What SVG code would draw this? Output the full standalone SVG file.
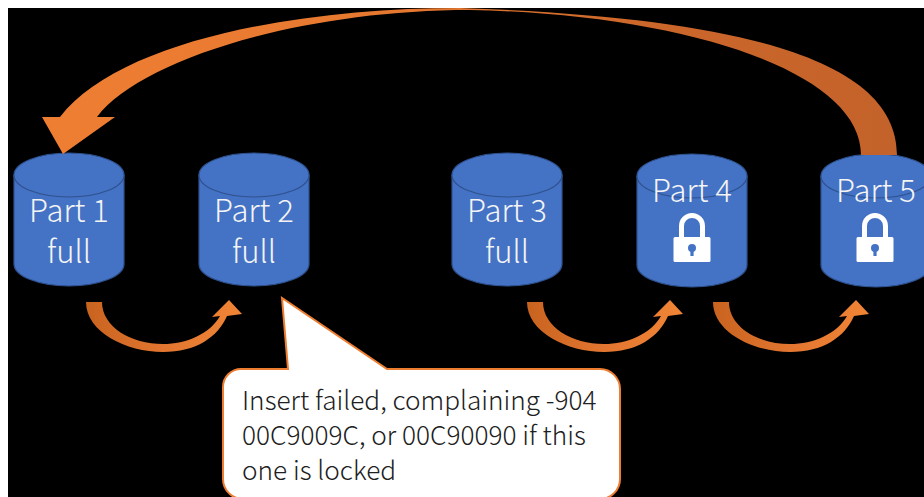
<svg xmlns="http://www.w3.org/2000/svg" width="924" height="497" viewBox="0 0 924 497">
  <style>
    .cyl { fill: #4472C4; stroke: #2F528F; stroke-width: 1.2; }
    .cyl-top { fill: #4472C4; stroke: #2F528F; stroke-width: 1.2; }
    .lbl { font-family: "Noto Sans CJK SC", "Noto Sans", sans-serif; font-weight: 300; font-size: 31px; fill: #F4F4F4; text-anchor: middle; }
    .note { font-family: "Noto Sans CJK SC", "Noto Sans", sans-serif; font-weight: 300; font-size: 26.2px; fill: #202020; }
  </style>
  <defs>
    <linearGradient id="bigGrad" x1="0" y1="0" x2="1" y2="0">
      <stop offset="0" stop-color="#EE7E32"/>
      <stop offset="0.45" stop-color="#E57730"/>
      <stop offset="0.7" stop-color="#CC672B"/>
      <stop offset="1" stop-color="#C3622A"/>
    </linearGradient>
    <linearGradient id="smallGrad" x1="0" y1="0" x2="1" y2="0">
      <stop offset="0" stop-color="#C8631F"/>
      <stop offset="0.5" stop-color="#E27630"/>
      <stop offset="1" stop-color="#F08536"/>
    </linearGradient>
    <!-- curved hop arrow, origin at the top-left of its tail -->
    <path id="hop" d="M0,0 C0,30 40,50 77,50 C110,50 132,35 141,14 L156,12 L143,-2 L126,15 L134,14 C124,32 100,42 77,42 C45,42 16,25 16,0 Z" fill="url(#smallGrad)"/>
    <!-- padlock, centred on x = 0 -->
    <g id="lock">
      <path d="M-10.5,238 V226 A10.5,10.5 0 0 1 10.5,226 V238" fill="none" stroke="#FFFFFF" stroke-width="5"/>
      <rect x="-18.5" y="237" width="37" height="25" rx="1.5" fill="#FFFFFF"/>
      <circle cx="0" cy="248" r="4" fill="#4472C4"/>
      <rect x="-1.6" y="248" width="3.2" height="8" fill="#4472C4"/>
    </g>
  </defs>

  <!-- canvas -->
  <rect x="0" y="0" width="924" height="497" fill="#FFFFFF"/>
  <rect x="8" y="8" width="916" height="489" fill="#000000"/>

  <!-- storage partitions -->
  <g id="part1">
    <path class="cyl" d="M14,175 V264 A55,22 0 0 0 124,264 V175 Z"/>
    <ellipse class="cyl-top" cx="69" cy="175" rx="55" ry="22"/>
    <text class="lbl" x="69" y="222">Part 1</text>
    <text class="lbl" x="69" y="263">full</text>
  </g>
  <g id="part2">
    <path class="cyl" d="M199,175 V264 A55,22 0 0 0 309,264 V175 Z"/>
    <ellipse class="cyl-top" cx="254" cy="175" rx="55" ry="22"/>
    <text class="lbl" x="254" y="222">Part 2</text>
    <text class="lbl" x="254" y="263">full</text>
  </g>
  <g id="part3">
    <path class="cyl" d="M452,175 V264 A55,22 0 0 0 562,264 V175 Z"/>
    <ellipse class="cyl-top" cx="507" cy="175" rx="55" ry="22"/>
    <text class="lbl" x="507" y="222">Part 3</text>
    <text class="lbl" x="507" y="263">full</text>
  </g>
  <g id="part4">
    <path class="cyl" d="M637,176 V265 A55,22 0 0 0 747,265 V176 Z"/>
    <ellipse class="cyl-top" cx="692" cy="176" rx="55" ry="22"/>
    <text class="lbl" x="692" y="202">Part 4</text>
    <use href="#lock" x="692" y="0"/>
  </g>
  <g id="part5">
    <path class="cyl" d="M821,176 V265 A55,22 0 0 0 931,265 V176 Z"/>
    <ellipse class="cyl-top" cx="876" cy="176" rx="55" ry="22"/>
    <text class="lbl" x="876" y="202">Part 5</text>
    <use href="#lock" x="875" y="0"/>
  </g>

  <!-- connectors -->
  <g id="connectors">
    <path id="wrap" fill="url(#bigGrad)" d="M897,155 C897,65 760,18 460,8 C300,8 120,40 60,117 L42,117 L63,154 L115,117 L97,117 C140,60 300,10 470,10 C680,14 861,70 861,155 Z"/>
    <use href="#hop" x="86" y="302"/>
    <use href="#hop" x="527" y="302"/>
    <use href="#hop" x="713" y="302"/>
  </g>

  <!-- callout -->
  <g id="callout">
    <path d="M241,369 L288,369 L282,298 L387,369 L600,369 A20,20 0 0 1 620,389 L620,479 A20,20 0 0 1 600,499 L243,499 A20,20 0 0 1 223,479 L223,387 A18,18 0 0 1 241,369 Z" fill="#FFFFFF" stroke="#ED7D31" stroke-width="2"/>
    <text class="note" x="242" y="410">Insert failed, complaining -904</text>
    <text class="note" x="242" y="445">00C9009C, or 00C90090 if this</text>
    <text class="note" x="242" y="480">one is locked</text>
  </g>
</svg>
